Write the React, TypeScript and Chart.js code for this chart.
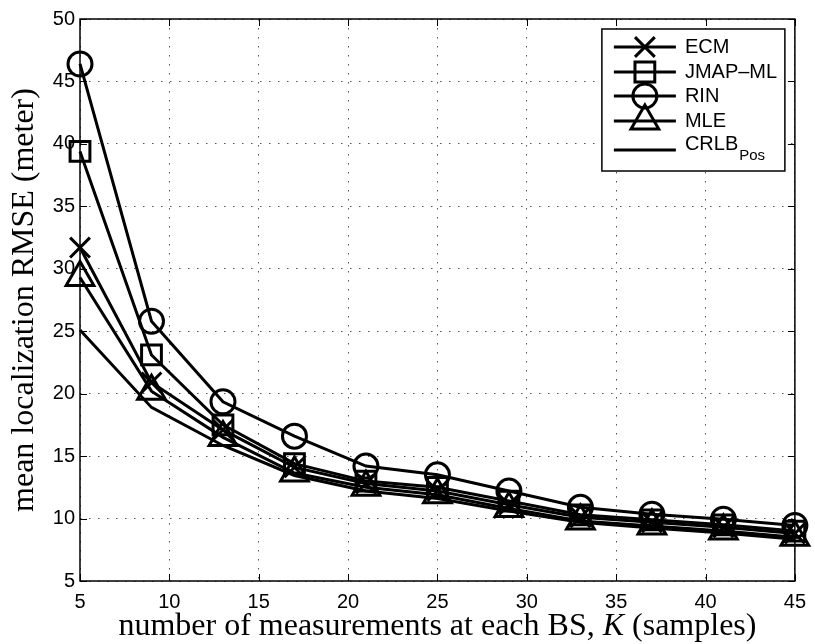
import React, { useEffect, useRef } from 'react';
import { Chart, registerables } from 'chart.js';

Chart.register(...registerables);

// ---- data ----
const kValues = [5, 9, 13, 17, 21, 25, 29, 33, 37, 41, 45];
const ecmValues = [31.7, 20.9, 17.1, 14.1, 12.8, 12.2, 11.1, 10.1, 9.7, 9.3, 8.8];
const jmapValues = [39.4, 23.1, 17.5, 14.4, 13.0, 12.5, 11.4, 10.3, 9.9, 9.5, 9.0];
const rinValues = [46.4, 25.8, 19.35, 16.6, 14.2, 13.5, 12.2, 10.9, 10.35, 9.95, 9.45];
const mleValues = [29.3, 20.2, 16.5, 13.65, 12.5, 11.9, 10.8, 9.8, 9.4, 9.0, 8.5];
const crlbValues = [25.1, 18.9, 15.85, 13.45, 12.2, 11.6, 10.6, 9.7, 9.25, 8.85, 8.35];

const seriesNames = ['ECM', 'JMAP\u2013ML', 'RIN', 'MLE', 'CRLB'];
const seriesSubscripts = ['', '', '', '', 'Pos'];
const xTickValues = [5, 10, 15, 20, 25, 30, 35, 40, 45];
const yTickValues = [5, 10, 15, 20, 25, 30, 35, 40, 45, 50];

const xTitleParts = ['number of measurements at each BS, ', 'K', ' (samples)'];
const yTitle = 'mean localization RMSE (meter)';

const SANS = '"Liberation Sans", Arial, Helvetica, sans-serif';
const SERIF = '"Liberation Serif", "Times New Roman", serif';

type Marker = { style: string; radius: number };
const markers: Marker[] = [
  { style: 'crossRot', radius: 14 },
  { style: 'rect', radius: 14 },
  { style: 'circle', radius: 12 },
  { style: 'triangle', radius: 16 },
  { style: 'none', radius: 0 },
];

function drawMarker(ctx: CanvasRenderingContext2D, style: string, x: number, y: number, r: number) {
  if (style === 'none' || r <= 0) return;
  ctx.beginPath();
  if (style === 'circle') {
    ctx.arc(x, y, r, 0, Math.PI * 2);
    ctx.closePath();
  } else if (style === 'rect') {
    const s = Math.SQRT1_2 * r;
    ctx.rect(x - s, y - s, 2 * s, 2 * s);
  } else if (style === 'triangle') {
    let rad = 0;
    ctx.moveTo(x + Math.sin(rad) * r, y - Math.cos(rad) * r);
    rad += (2 * Math.PI) / 3;
    ctx.lineTo(x + Math.sin(rad) * r, y - Math.cos(rad) * r);
    rad += (2 * Math.PI) / 3;
    ctx.lineTo(x + Math.sin(rad) * r, y - Math.cos(rad) * r);
    ctx.closePath();
  } else if (style === 'crossRot') {
    const o = Math.cos(Math.PI / 4) * r;
    ctx.moveTo(x - o, y - o);
    ctx.lineTo(x + o, y + o);
    ctx.moveTo(x + o, y - o);
    ctx.lineTo(x - o, y + o);
  }
  ctx.stroke();
}

const decorPlugin = {
  id: 'matlabDecor',
  afterDraw(chart: any) {
    const ctx: CanvasRenderingContext2D = chart.ctx;
    const { left, right, top, bottom } = chart.chartArea;
    const xs = chart.scales.x;
    const ys = chart.scales.y;
    ctx.save();
    ctx.strokeStyle = '#000';
    ctx.fillStyle = '#000';

    // inward ticks on all four sides
    ctx.lineWidth = 1;
    const tl = 7;
    ctx.beginPath();
    for (const t of xTickValues) {
      const px = Math.round(xs.getPixelForValue(t)) + 0.5;
      ctx.moveTo(px, bottom);
      ctx.lineTo(px, bottom - tl);
      ctx.moveTo(px, top);
      ctx.lineTo(px, top + tl);
    }
    for (const t of yTickValues) {
      const py = Math.round(ys.getPixelForValue(t)) + 0.5;
      ctx.moveTo(left, py);
      ctx.lineTo(left + tl, py);
      ctx.moveTo(right, py);
      ctx.lineTo(right - tl, py);
    }
    ctx.stroke();

    // axes box
    ctx.lineWidth = 1.5;
    ctx.strokeRect(left, top, right - left, bottom - top);

    // legend
    const boxW = 183;
    const boxH = 142;
    const boxRight = right - 10;
    const boxTop = top + 10;
    const boxLeft = boxRight - boxW;
    ctx.fillStyle = '#fff';
    ctx.fillRect(boxLeft, boxTop, boxW, boxH);
    ctx.strokeStyle = '#000';
    ctx.lineWidth = 1.5;
    ctx.strokeRect(boxLeft, boxTop, boxW, boxH);

    const rowOffsets = [18, 43, 67, 92, 121];
    const textOffsets = [18, 43, 67, 92, 115];
    ctx.lineWidth = 3;
    ctx.lineCap = 'butt';
    ctx.lineJoin = 'miter';
    ctx.fillStyle = '#000';
    for (let i = 0; i < seriesNames.length; i++) {
      const ly = boxTop + rowOffsets[i];
      ctx.beginPath();
      ctx.moveTo(boxLeft + 12, ly);
      ctx.lineTo(boxLeft + 74, ly);
      ctx.stroke();
      drawMarker(ctx, markers[i].style, boxLeft + 43, ly, markers[i].radius);
      ctx.font = `20px ${SANS}`;
      ctx.textAlign = 'left';
      ctx.textBaseline = 'middle';
      const ty = boxTop + textOffsets[i];
      ctx.fillText(seriesNames[i], boxLeft + 83, ty);
      if (seriesSubscripts[i]) {
        const w = ctx.measureText(seriesNames[i]).width;
        ctx.font = `15px ${SANS}`;
        ctx.fillText(seriesSubscripts[i], boxLeft + 83 + w + 1, ty + 12);
      }
    }

    // x title
    ctx.fillStyle = '#000';
    ctx.textBaseline = 'alphabetic';
    ctx.textAlign = 'left';
    const fonts = [`32px ${SERIF}`, `italic 32px ${SERIF}`, `32px ${SERIF}`];
    let total = 0;
    const widths: number[] = [];
    for (let i = 0; i < xTitleParts.length; i++) {
      ctx.font = fonts[i];
      const w = ctx.measureText(xTitleParts[i]).width;
      widths.push(w);
      total += w;
    }
    let cx = (left + right) / 2 - total / 2;
    for (let i = 0; i < xTitleParts.length; i++) {
      ctx.font = fonts[i];
      ctx.fillText(xTitleParts[i], cx, 635);
      cx += widths[i];
    }

    // y title
    ctx.save();
    ctx.translate(33, (top + bottom) / 2);
    ctx.rotate(-Math.PI / 2);
    ctx.font = `32px ${SERIF}`;
    ctx.textAlign = 'center';
    ctx.textBaseline = 'alphabetic';
    ctx.fillText(yTitle, 0, 0);
    ctx.restore();

    ctx.restore();
  },
};

export default function App() {
  const canvasRef = useRef<HTMLCanvasElement | null>(null);

  useEffect(() => {
    if (!canvasRef.current) return;
    const allSeries = [ecmValues, jmapValues, rinValues, mleValues, crlbValues];
    const datasets = allSeries.map((vals, i) => ({
      label: seriesNames[i],
      data: kValues.map((k, j) => ({ x: k, y: vals[j] })),
      borderColor: '#000',
      backgroundColor: 'transparent',
      borderWidth: 3,
      pointStyle: markers[i].style === 'none' ? false : markers[i].style,
      pointRadius: markers[i].radius,
      pointHoverRadius: markers[i].radius,
      pointBorderColor: '#000',
      pointBackgroundColor: 'transparent',
      pointBorderWidth: 3,
      tension: 0,
      clip: false,
    }));

    const chart = new Chart(canvasRef.current, {
      type: 'line',
      data: { datasets: datasets as any },
      options: {
        responsive: false,
        animation: false,
        events: [],
        layout: { padding: { top: 15, right: 15, left: 0, bottom: 0 } },
        plugins: {
          legend: { display: false },
          tooltip: { enabled: false },
          title: { display: false },
        },
        scales: {
          x: {
            type: 'linear',
            min: 5,
            max: 45,
            afterBuildTicks: (scale: any) => {
              scale.ticks = xTickValues.map((v) => ({ value: v }));
            },
            afterFit: (scale: any) => {
              scale.height = 63;
            },
            ticks: {
              color: '#000',
              font: { family: SANS, size: 20 },
              padding: 9,
              maxRotation: 0,
              autoSkip: false,
            },
            grid: {
              color: '#555',
              lineWidth: 1,
              drawTicks: false,
              tickBorderDash: [],
            },
            border: { display: false, dash: [1.5, 7.5] },
          },
          y: {
            type: 'linear',
            min: 5,
            max: 50,
            afterBuildTicks: (scale: any) => {
              scale.ticks = yTickValues.map((v) => ({ value: v }));
            },
            afterFit: (scale: any) => {
              scale.width = 80;
            },
            ticks: {
              color: '#000',
              font: { family: SANS, size: 20 },
              padding: 5,
              autoSkip: false,
            },
            grid: {
              color: '#555',
              lineWidth: 1,
              drawTicks: false,
            },
            border: { display: false, dash: [1.5, 7.5] },
          },
        },
      } as any,
      plugins: [decorPlugin],
    });
    return () => chart.destroy();
  }, []);

  return (
    <div style={{ position: 'absolute', left: 0, top: 0, width: 815, height: 644, background: '#fff' }}>
      <canvas ref={canvasRef} width={815} height={644} style={{ display: 'block' }} />
    </div>
  );
}
